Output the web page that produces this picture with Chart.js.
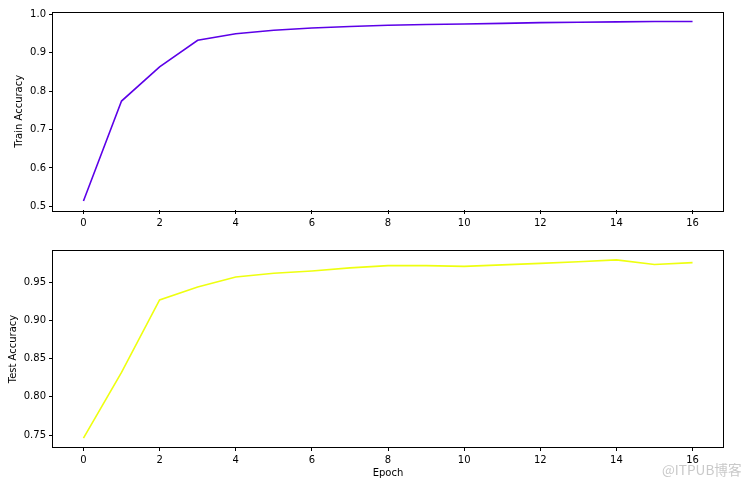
<!DOCTYPE html>
<html>
<head>
<meta charset="utf-8">
<script src="https://cdn.jsdelivr.net/npm/chart.js@4/dist/chart.umd.min.js"></script>
<style>
  html, body { margin: 0; padding: 0; background: #fff; }
  #wrap { position: relative; width: 752px; height: 484px; }
  canvas { position: absolute; left: 0; }
  #c1 { top: 0; }
  #c2 { top: 242px; }
  #wm { position: absolute; left: 662px; top: 459px; font: 13.6px "Noto Sans CJK SC", "Noto Sans", sans-serif; color: #c9c9c9; white-space: nowrap; }
</style>
</head>
<body>
<div id="wrap">
  <canvas id="c1" width="752" height="242"></canvas>
  <canvas id="c2" width="752" height="242"></canvas>
  <div id="wm">@ITPUB博客</div>
</div>
<script>
const epochs = [0,1,2,3,4,5,6,7,8,9,10,11,12,13,14,15,16];
const trainAcc = [0.514,0.774,0.863,0.932,0.949,0.958,0.964,0.968,0.971,0.973,0.9745,0.976,0.978,0.979,0.980,0.981,0.981];
const testAcc = [0.746,0.832,0.927,0.944,0.957,0.962,0.965,0.969,0.972,0.972,0.971,0.973,0.975,0.977,0.9795,0.9735,0.976];
const xTicks = [0,2,4,6,8,10,12,14,16];
const yTicksTrain = [0.5,0.6,0.7,0.8,0.9,1.0];
const yTicksTest = [0.75,0.80,0.85,0.90,0.95];

const FONT = { family: "'DejaVu Sans', sans-serif", size: 10 };

function padRange(arr) {
  const mn = Math.min(...arr), mx = Math.max(...arr);
  const m = (mx - mn) * 0.05;
  return [mn - m, mx + m];
}

const framePlugin = {
  id: 'frame',
  afterDraw(chart) {
    const a = chart.chartArea, ctx = chart.ctx;
    ctx.save();
    ctx.strokeStyle = '#000';
    ctx.lineWidth = 1;
    ctx.strokeRect(Math.round(a.left) - 0.5, Math.round(a.top) - 0.5, Math.round(a.right - a.left) + 1, Math.round(a.bottom - a.top) + 1);
    ctx.restore();
  }
};

function makeChart(id, values, color, yTicks, decimals, yTitle, yTitlePad, padTop, xHeight, showXTitle) {
  const xr = padRange(epochs);
  const yr = padRange(values);
  return new Chart(document.getElementById(id), {
    type: 'line',
    data: {
      datasets: [{
        data: epochs.map((e, i) => ({ x: e, y: values[i] })),
        borderColor: color,
        borderWidth: 1.6,
        pointRadius: 0,
        tension: 0,
        fill: false
      }]
    },
    options: {
      responsive: false,
      animation: false,
      devicePixelRatio: 1,
      layout: { padding: { top: padTop, right: 29, left: 0, bottom: 0 } },
      plugins: { legend: { display: false }, tooltip: { enabled: false } },
      scales: {
        x: {
          type: 'linear',
          min: xr[0], max: xr[1],
          afterBuildTicks: s => { s.ticks = xTicks.map(v => ({ value: v })); },
          afterFit: s => { s.height = xHeight; },
          grid: { drawOnChartArea: false, drawTicks: true, tickLength: 4, tickColor: '#000', lineWidth: 1 },
          border: { display: false },
          ticks: { color: '#000', font: FONT, padding: 3, maxRotation: 0, autoSkip: false, callback: v => String(v) },
          title: { display: showXTitle, text: 'Epoch', color: '#000', font: FONT, padding: { top: 0, bottom: 5 } }
        },
        y: {
          type: 'linear',
          min: yr[0], max: yr[1],
          afterBuildTicks: s => { s.ticks = yTicks.map(v => ({ value: v })); },
          afterFit: s => { s.width = 53; },
          grid: { drawOnChartArea: false, drawTicks: true, tickLength: 4, tickColor: '#000', lineWidth: 1 },
          border: { display: false },
          ticks: { color: '#000', font: FONT, padding: 3, autoSkip: false, callback: v => Number(v).toFixed(decimals) },
          title: { display: true, text: yTitle, color: '#000', font: FONT, padding: { top: yTitlePad, bottom: 0 } }
        }
      }
    },
    plugins: [framePlugin]
  });
}

makeChart('c1', trainAcc, '#5c00e8', yTicksTrain, 1, 'Train Accuracy', 13.5, 12.5, 32, false);
makeChart('c2', testAcc, '#eeff10', yTicksTest, 2, 'Test Accuracy', 7.3, 7, 37, true);
</script>
</body>
</html>
